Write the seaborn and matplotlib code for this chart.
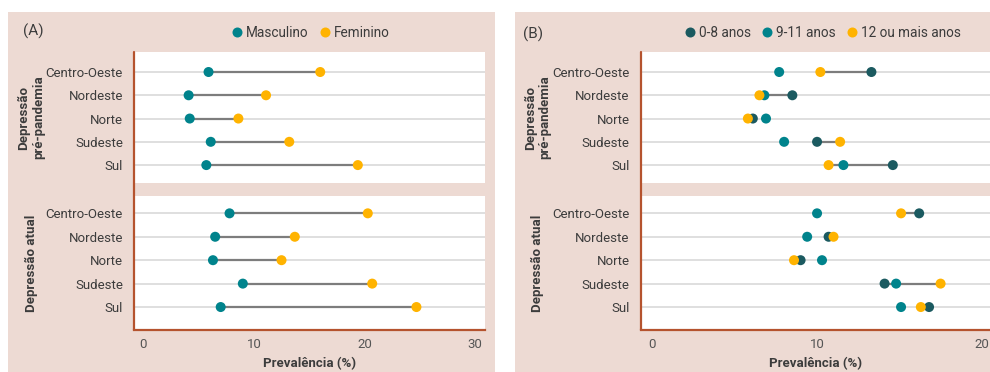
import matplotlib
matplotlib.use("Agg")
import matplotlib.pyplot as plt
from matplotlib.lines import Line2D
from matplotlib.patches import Rectangle
import numpy as np
import pandas as pd
import seaborn as sns

# ---- data -------------------------------------------------------------
regioes = ["Centro-Oeste", "Nordeste", "Norte", "Sudeste", "Sul"]
facetas = ["Depressão\npré-pandemia", "Depressão atual"]

# (A) sexo
masculino_pre = [5.9, 4.1, 4.2, 6.1, 5.7]
feminino_pre = [16.0, 11.1, 8.6, 13.2, 19.4]
masculino_atual = [7.8, 6.5, 6.3, 9.0, 7.0]
feminino_atual = [20.3, 13.7, 12.5, 20.7, 24.7]

# (B) escolaridade
esc_0_8_pre = [13.3, 8.5, 6.1, 10.0, 14.6]
esc_9_11_pre = [7.7, 6.8, 6.9, 8.0, 11.6]
esc_12_pre = [10.2, 6.5, 5.8, 11.4, 10.7]
esc_0_8_atual = [16.2, 10.7, 9.0, 14.1, 16.8]
esc_9_11_atual = [10.0, 9.4, 10.3, 14.8, 15.1]
esc_12_atual = [15.1, 11.0, 8.6, 17.5, 16.3]

grupos_sexo = ["Masculino", "Feminino"]
grupos_esc = ["0-8 anos", "9-11 anos", "12 ou mais anos"]
ticks_a = [0, 10, 20, 30]
ticks_b = [0, 10, 20]

# ---- style ------------------------------------------------------------
sns.set_theme(style="white")
plt.rcParams["font.family"] = ["Roboto", "DejaVu Sans"]

TEAL = "#00838C"
YELLOW = "#FFB300"
DARK = "#1B5A60"
PINK = "#EDDAD3"
RUST = "#B5532E"
SEG = "#7D7D7D"
GRID = "#DCDCDC"
TXT = "#3C3C3C"
FS = 9.5

cores_sexo = {"Masculino": TEAL, "Feminino": YELLOW}
cores_esc = {"0-8 anos": DARK, "9-11 anos": TEAL, "12 ou mais anos": YELLOW}

W, H = 990, 372
fig = plt.figure(figsize=(W / 100, H / 100), dpi=100)


def fx(px):
    return px / W


def fy(py):
    return 1 - py / H


# panel backgrounds
for x0, x1 in [(8, 495), (515, 990)]:
    fig.patches.append(Rectangle((fx(x0), 0), fx(x1 - x0), fy(12), transform=fig.transFigure,
                                 facecolor=PINK, edgecolor="none", zorder=-10))


def long_df(series):
    rows = []
    for grupo, vals in series.items():
        for i, (r, v) in enumerate(zip(regioes, vals)):
            rows.append({"regiao": r, "pos": i, "grupo": grupo, "valor": v})
    return pd.DataFrame(rows)


def style_axis(ax, xlim, ylim, ticks, bottom):
    ax.set_facecolor("white")
    ax.set_xlim(*xlim)
    ax.set_ylim(*ylim)
    ax.set_yticks(range(len(regioes)))
    ax.set_yticklabels(regioes, fontsize=FS, color=TXT)
    for y in range(len(regioes)):
        ax.axhline(y, color=GRID, lw=1.3, zorder=1)
    for s in ax.spines.values():
        s.set_visible(False)
    ax.tick_params(axis="y", length=3, width=0.8, color="#BBBBBB", pad=5)
    if bottom:
        ax.spines["bottom"].set_visible(True)
        ax.spines["bottom"].set_color(RUST)
        ax.spines["bottom"].set_linewidth(1.6)
        ax.set_xticks(ticks)
        ax.tick_params(axis="x", length=3, width=0.8, color="#BBBBBB", labelsize=FS,
                       labelcolor="#555555", pad=3)
        ax.set_xlabel("Prevalência (%)", fontsize=FS, fontweight="bold", color=TXT, labelpad=4)
    else:
        ax.set_xticks([])
        ax.set_xlabel("")
    ax.set_ylabel("")
    ax.grid(False)


def draw_panel(ax, series, lo, hi, cores, order):
    df = long_df(series)
    ax.hlines(range(len(regioes)), np.minimum(series[lo], series[hi]),
              np.maximum(series[lo], series[hi]), color=SEG, lw=1.6, zorder=2)
    sns.scatterplot(data=df, x="valor", y="pos", hue="grupo", hue_order=order,
                    palette=cores, s=52, edgecolor="none", linewidth=0, legend=False,
                    ax=ax, zorder=3)


rows_px = [(52, 183), (196, 330)]
ylims = [(4.77, -0.86), (4.98, -0.74)]
panels = [
    dict(x0=134, x1=485, xlim=(-0.84, 30.9), ticks=ticks_a, cores=cores_sexo, order=grupos_sexo,
         lo="Masculino", hi="Feminino",
         data=[{"Masculino": masculino_pre, "Feminino": feminino_pre},
               {"Masculino": masculino_atual, "Feminino": feminino_atual}]),
    dict(x0=640.5, x1=990, xlim=(-0.72, 20.5), ticks=ticks_b, cores=cores_esc, order=grupos_esc,
         lo="0-8 anos", hi="12 ou mais anos",
         data=[{"0-8 anos": esc_0_8_pre, "9-11 anos": esc_9_11_pre, "12 ou mais anos": esc_12_pre},
               {"0-8 anos": esc_0_8_atual, "9-11 anos": esc_9_11_atual, "12 ou mais anos": esc_12_atual}]),
]

for p in panels:
    for k, ((top, bot), ylim) in enumerate(zip(rows_px, ylims)):
        ax = fig.add_axes([fx(p["x0"]), fy(bot), fx(p["x1"] - p["x0"]), (bot - top) / H])
        draw_panel(ax, p["data"][k], p["lo"], p["hi"], p["cores"], p["order"])
        style_axis(ax, p["xlim"], ylim, p["ticks"], bottom=(k == 1))
    # continuous left axis line across both facets
    fig.add_artist(Line2D([fx(p["x0"]), fx(p["x0"])], [fy(330), fy(52)], transform=fig.transFigure,
                          color=RUST, lw=1.6, zorder=5))
    # facet strip labels
    for (top, bot), lab in zip(rows_px, facetas):
        fig.text(fx(p["x0"] - 103), fy((top + bot) / 2), lab, rotation=90, ha="center", va="center",
                 fontsize=FS, fontweight="bold", color=TXT, linespacing=1.15, multialignment="center")

# panel tags
fig.text(fx(23), fy(31), "(A)", fontsize=11, color=TXT, ha="left", va="center")
fig.text(fx(523), fy(34), "(B)", fontsize=11, color=TXT, ha="left", va="center")


def legend(groups, cores, cx):
    handles = [Line2D([], [], marker="o", linestyle="none", markersize=7.2,
                      markerfacecolor=cores[g], markeredgewidth=0, label=g) for g in groups]
    fig.legend(handles=handles, loc="center", bbox_to_anchor=(fx(cx), fy(33)), ncol=len(groups),
               frameon=False, fontsize=FS + 0.3, handlelength=0.7, handletextpad=0.35,
               columnspacing=0.8, borderpad=0, labelcolor=TXT)


legend(grupos_sexo, cores_sexo, 311)
legend(grupos_esc, cores_esc, 823)

fig.savefig("out.png", dpi=100)
